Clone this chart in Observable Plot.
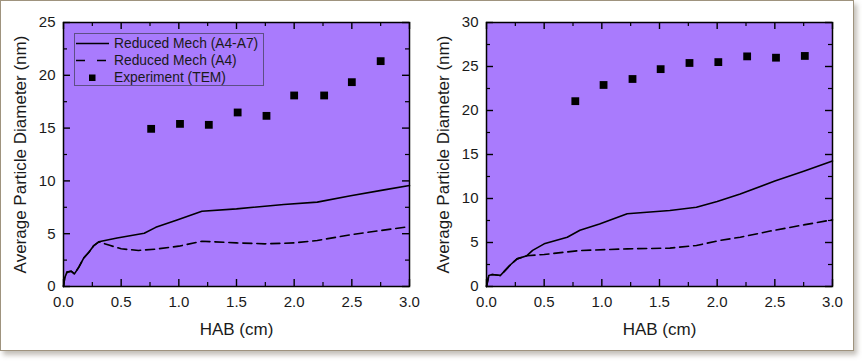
<!DOCTYPE html>
<html>
<head>
<meta charset="utf-8">
<script src="https://cdn.jsdelivr.net/npm/d3@7"></script>
<script src="https://cdn.jsdelivr.net/npm/@observablehq/plot@0.6"></script>
<style>
  html, body { margin: 0; padding: 0; background: #ffffff; }
  #page { position: relative; width: 862px; height: 361px; font-family: "Liberation Sans", Arial, sans-serif; }
  #frame { position: absolute; left: 0; top: 0; width: 852px; height: 349px; border: 1px solid #9f937e; background: #fff; box-shadow: 3px 4px 5px rgba(80,70,50,0.35); }
  .chart { position: absolute; top: 0; }
  .chart svg { overflow: visible; }
  #legend { position: absolute; left: 74px; top: 33px; width: 190px; height: 53px; border: 1px solid #5e4f86; box-sizing: border-box; font-size: 13.8px; color: #1a1a1a; }
  .lrow { position: absolute; left: 0; height: 17px; display: flex; align-items: center; }
  .lrow svg { width: 36px; height: 17px; margin-right: 3px; }
</style>
</head>
<body>
<div id="page">
  <div id="frame"></div>
  <div id="left" class="chart" style="left:0px"></div>
  <div id="right" class="chart" style="left:423px"></div>
  <div id="legend"></div>
</div>
<script>
// ---------- data ----------
const xTicks = [0, 0.5, 1.0, 1.5, 2.0, 2.5, 3.0];
const xMinor = [0.25, 0.75, 1.25, 1.75, 2.25, 2.75];
const yTicksLeft = [0, 5, 10, 15, 20, 25];
const yMinorLeft = [2.5, 7.5, 12.5, 17.5, 22.5];
const yTicksRight = [0, 5, 10, 15, 20, 25, 30];
const yMinorRight = [2.5, 7.5, 12.5, 17.5, 22.5, 27.5];

const seriesNames = ["Reduced Mech (A4-A7)", "Reduced Mech (A4)", "Experiment (TEM)"];
const xTitle = "HAB (cm)";
const yTitle = "Average Particle Diameter (nm)";

// left panel
const leftSolidX = [0, 0.01, 0.03, 0.066, 0.095, 0.133, 0.176, 0.22, 0.263, 0.306, 0.465, 0.70, 0.80, 0.985, 1.2, 1.5, 1.91, 2.2, 2.49, 2.78, 3.0];
const leftSolidY = [0, 0.8, 1.36, 1.45, 1.2, 1.83, 2.7, 3.25, 3.88, 4.23, 4.6, 5.05, 5.6, 6.3, 7.13, 7.35, 7.77, 7.99, 8.6, 9.15, 9.56];
const leftDashX = [0, 0.01, 0.03, 0.066, 0.095, 0.133, 0.176, 0.22, 0.263, 0.306, 0.4, 0.5, 0.65, 0.8, 1.0, 1.2, 1.5, 1.75, 2.0, 2.2, 2.5, 2.75, 3.0];
const leftDashY = [0, 0.8, 1.36, 1.45, 1.2, 1.83, 2.7, 3.25, 3.88, 4.23, 3.9, 3.57, 3.41, 3.54, 3.82, 4.29, 4.13, 4.04, 4.13, 4.36, 4.92, 5.3, 5.68];
const leftExpX = [0.76, 1.01, 1.26, 1.51, 1.76, 2.0, 2.26, 2.5, 2.75];
const leftExpY = [14.93, 15.40, 15.31, 16.48, 16.16, 18.09, 18.09, 19.35, 21.34];

// right panel
const rightSolidX = [0, 0.02, 0.05, 0.12, 0.16, 0.21, 0.265, 0.35, 0.4, 0.5, 0.7, 0.81, 0.98, 1.22, 1.59, 1.82, 2.0, 2.2, 2.5, 2.75, 3.0];
const rightSolidY = [0, 1.25, 1.36, 1.25, 1.8, 2.5, 3.14, 3.5, 4.1, 4.85, 5.6, 6.4, 7.1, 8.26, 8.64, 9.0, 9.66, 10.5, 12.0, 13.1, 14.26];
const rightDashX = [0, 0.02, 0.05, 0.12, 0.16, 0.21, 0.265, 0.35, 0.5, 0.81, 1.22, 1.59, 1.82, 2.02, 2.2, 2.46, 2.75, 3.0];
const rightDashY = [0, 1.25, 1.36, 1.25, 1.8, 2.5, 3.14, 3.5, 3.64, 4.09, 4.28, 4.36, 4.66, 5.23, 5.6, 6.3, 7.0, 7.58];
const rightExpX = [0.77, 1.015, 1.266, 1.51, 1.76, 2.01, 2.26, 2.51, 2.76];
const rightExpY = [21.06, 22.9, 23.58, 24.7, 25.4, 25.5, 26.15, 26.0, 26.2];

// ---------- chart builder ----------
const W = 430, H = 345;
const M = {top: 22, right: 21, bottom: 59, left: 63};
const plotW = W - M.left - M.right;
const plotH = H - M.top - M.bottom;
const purple = "#a97bfd";

function zip(xs, ys) { return xs.map((x, i) => ({x, y: ys[i]})); }

function makeChart(cfg) {
  const solid = zip(cfg.solidX, cfg.solidY);
  const dash = zip(cfg.dashX, cfg.dashY);
  const exp = zip(cfg.expX, cfg.expY);
  const major = 7, minor = 4;
  return Plot.plot({
    width: W, height: H,
    marginTop: M.top, marginRight: M.right, marginBottom: M.bottom, marginLeft: M.left,
    style: {fontFamily: "'Liberation Sans', Arial, sans-serif", fontSize: "15px", color: "#1a1a1a", background: "transparent"},
    x: {domain: [0, 3]},
    y: {domain: cfg.yDomain},
    marks: [
      Plot.frame({fill: purple}),
      // inward ticks
      Plot.tickX(xTicks, {x: d => d, insetTop: plotH - major, stroke: "black", strokeWidth: 1.4}),
      Plot.tickX(xMinor, {x: d => d, insetTop: plotH - minor, stroke: "black", strokeWidth: 1.2}),
      Plot.tickX(xTicks, {x: d => d, insetBottom: plotH - major, stroke: "black", strokeWidth: 1.4}),
      Plot.tickX(xMinor, {x: d => d, insetBottom: plotH - minor, stroke: "black", strokeWidth: 1.2}),
      Plot.tickY(cfg.yTicks, {y: d => d, insetRight: plotW - major, stroke: "black", strokeWidth: 1.4}),
      Plot.tickY(cfg.yMinor, {y: d => d, insetRight: plotW - minor, stroke: "black", strokeWidth: 1.2}),
      Plot.tickY(cfg.yTicks, {y: d => d, insetLeft: plotW - major, stroke: "black", strokeWidth: 1.4}),
      Plot.tickY(cfg.yMinor, {y: d => d, insetLeft: plotW - minor, stroke: "black", strokeWidth: 1.2}),
      Plot.line(solid, {x: "x", y: "y", stroke: "black", strokeWidth: 1.6}),
      Plot.line(dash, {x: "x", y: "y", stroke: "black", strokeWidth: 1.6, strokeDasharray: "9,5"}),
      Plot.dot(exp, {x: "x", y: "y", symbol: "square", r: 4.4, fill: "black", stroke: "none"}),
      Plot.frame({stroke: "black", strokeWidth: 1.5}),
      // tick labels
      Plot.axisX({ticks: xTicks, tickFormat: d => d.toFixed(1), tickSize: 0, tickPadding: 10, label: null, fontSize: 15}),
      Plot.axisY({ticks: cfg.yTicks, tickFormat: d => String(d), tickSize: 0, tickPadding: 8, label: null, fontSize: 15}),
      // axis titles
      Plot.axisX({ticks: [], tickSize: 0, label: xTitle, labelAnchor: "center", labelOffset: 48.5, labelArrow: "none", fontSize: 17}),
      Plot.axisY({ticks: [], tickSize: 0, label: yTitle, labelAnchor: "center", labelOffset: 49.5, labelArrow: "none", fontSize: 17})
    ]
  });
}

document.getElementById("left").appendChild(makeChart({
  solidX: leftSolidX, solidY: leftSolidY, dashX: leftDashX, dashY: leftDashY,
  expX: leftExpX, expY: leftExpY, yDomain: [0, 25], yTicks: yTicksLeft, yMinor: yMinorLeft
}));
document.getElementById("right").appendChild(makeChart({
  solidX: rightSolidX, solidY: rightSolidY, dashX: rightDashX, dashY: rightDashY,
  expX: rightExpX, expY: rightExpY, yDomain: [0, 30], yTicks: yTicksRight, yMinor: yMinorRight
}));

// ---------- legend ----------
const legend = document.getElementById("legend");
const samples = [
  '<line x1="1" y1="8.5" x2="34" y2="8.5" stroke="black" stroke-width="1.6"/>',
  '<line x1="1" y1="8.5" x2="34" y2="8.5" stroke="black" stroke-width="1.6" stroke-dasharray="9,12"/>',
  '<rect x="14" y="5.5" width="6.5" height="6.5" fill="black"/>'
];
const rowTops = [1, 18, 35];
seriesNames.forEach((name, i) => {
  const row = document.createElement("div");
  row.className = "lrow";
  row.style.top = rowTops[i] + "px";
  row.innerHTML = '<svg viewBox="0 0 36 17">' + samples[i] + '</svg><span>' + name + '</span>';
  legend.appendChild(row);
});
</script>
</body>
</html>
